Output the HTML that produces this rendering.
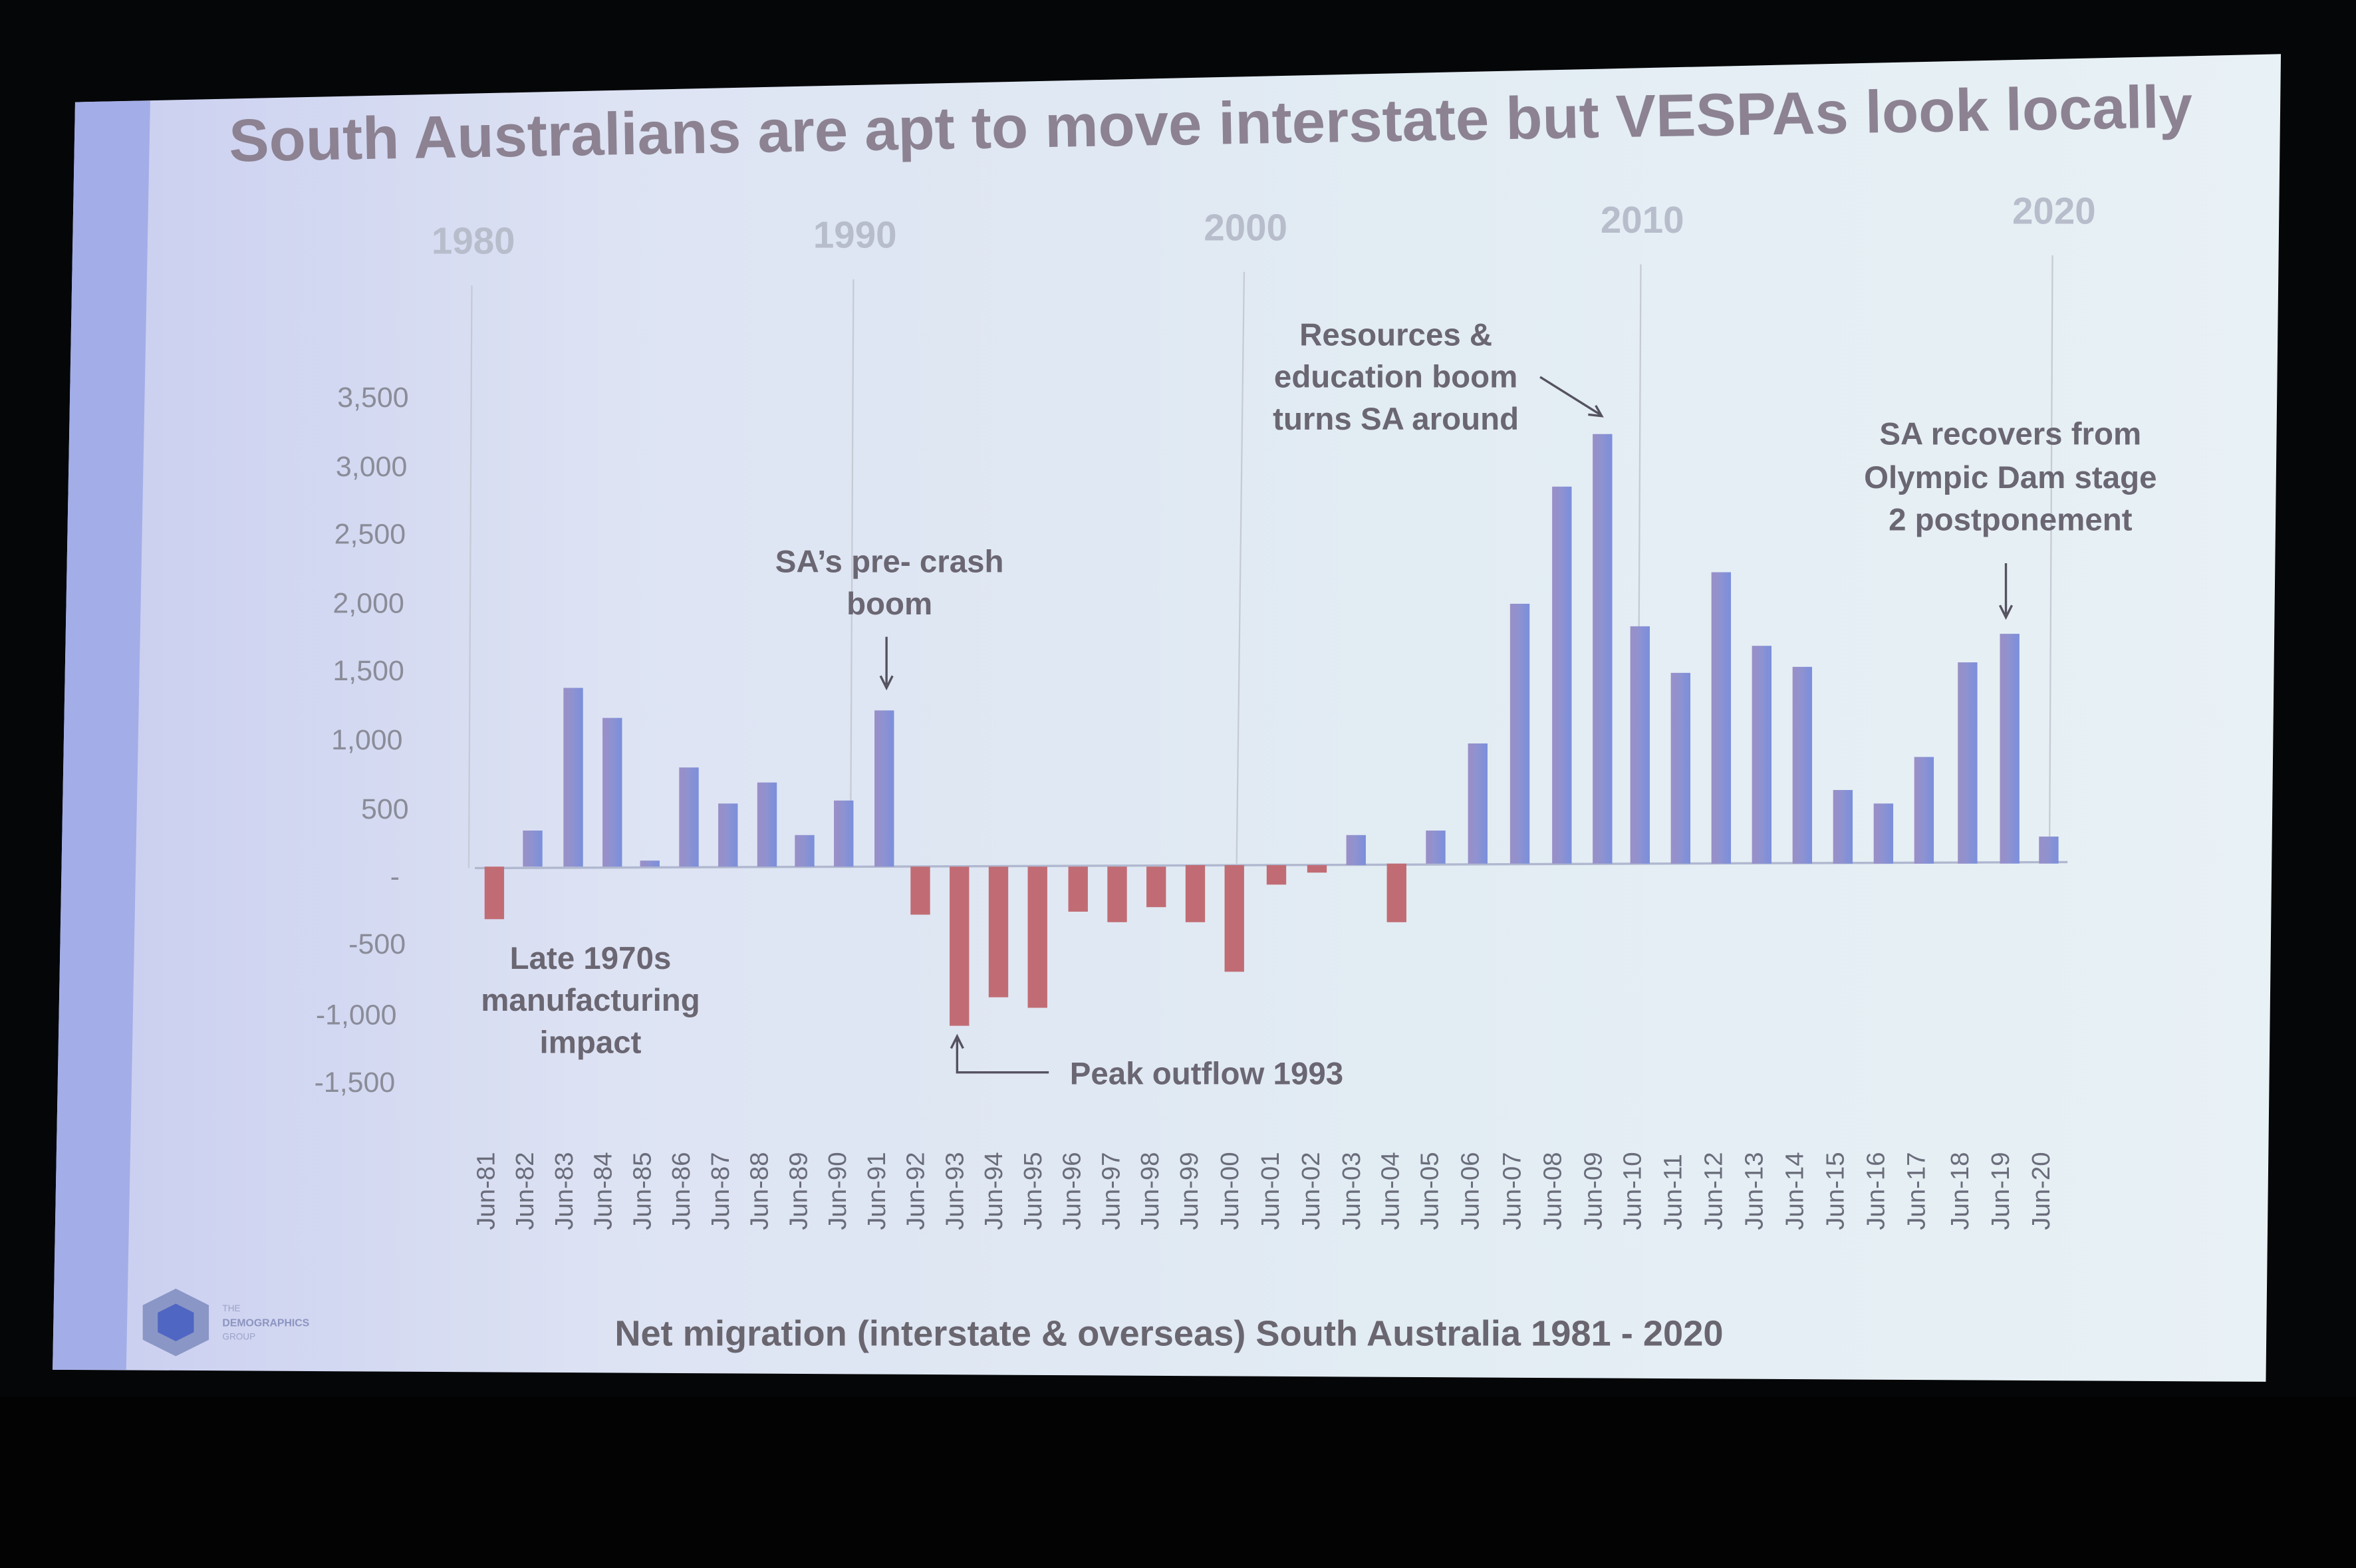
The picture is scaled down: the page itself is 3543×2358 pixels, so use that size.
<!DOCTYPE html>
<html><head><meta charset="utf-8"><style>
html,body{margin:0;padding:0;background:#050608;width:3543px;height:2358px;overflow:hidden}
svg{display:block}
text{font-family:"Liberation Sans",sans-serif}
</style></head><body>
<svg width="3543" height="2358" viewBox="0 0 1568 1044" preserveAspectRatio="none">
<defs>
<linearGradient id="scr" x1="0" y1="0" x2="1" y2="0">
<stop offset="0" stop-color="#c9cdf0"/><stop offset="0.25" stop-color="#dde3f3"/><stop offset="0.6" stop-color="#e2ecf3"/><stop offset="1" stop-color="#e8f1f5"/>
</linearGradient>
<linearGradient id="blu" x1="0" y1="0" x2="1" y2="0">
<stop offset="0" stop-color="#9a8fc6"/><stop offset="0.45" stop-color="#8f92d0"/><stop offset="1" stop-color="#7a8fdc"/>
</linearGradient>
</defs>
<rect width="1568" height="1044" fill="#050608"/>
<rect x="0" y="930" width="1568" height="114" fill="#030304"/>
<polygon points="50,68 1518,36 1508,920 35,912" fill="url(#scr)"/>
<polygon points="50,68 100,67 84,912 35,912" fill="#a3aee8"/>
<text x="806" y="96" text-anchor="middle" font-size="40" font-weight="bold" fill="#8c8292" transform="rotate(-1 806 96)">South Australians are apt to move interstate but VESPAs look locally</text>
<g font-size="25" font-weight="bold" fill="#b8bdcb" text-anchor="middle">
<text x="315" y="169">1980</text><text x="569" y="165">1990</text><text x="829" y="160">2000</text><text x="1093" y="155">2010</text><text x="1367" y="149">2020</text>
</g>
<g stroke="#c6cad4" stroke-width="1">
<line x1="314" y1="190" x2="312" y2="578"/><line x1="568" y1="186" x2="566" y2="578"/><line x1="828" y1="181" x2="823" y2="575"/><line x1="1092" y1="176" x2="1090" y2="574"/><line x1="1366" y1="170" x2="1364" y2="574"/>
</g>
<g font-size="19" fill="#8a8c98" text-anchor="end">
<text x="272" y="271">3,500</text><text x="271" y="317">3,000</text><text x="270" y="362">2,500</text><text x="269" y="408">2,000</text><text x="269" y="453">1,500</text><text x="268" y="499">1,000</text><text x="272" y="545">500</text><text x="266" y="590">-</text><text x="270" y="635">-500</text><text x="264" y="682">-1,000</text><text x="263" y="727">-1,500</text>
</g>
<line x1="316" y1="578" x2="1376" y2="574" stroke="#b0b8d0" stroke-width="1.5"/>
<g fill="#c16c74">
<rect x="322.5" y="577" width="13" height="35"/>
<rect x="606" y="577" width="13" height="32"/>
<rect x="632" y="577" width="13" height="106"/>
<rect x="658" y="577" width="13" height="87"/>
<rect x="684" y="577" width="13" height="94"/>
<rect x="711" y="577" width="13" height="30"/>
<rect x="737" y="577" width="13" height="37"/>
<rect x="763" y="577" width="13" height="27"/>
<rect x="789" y="576" width="13" height="38"/>
<rect x="815" y="576" width="13" height="71"/>
<rect x="843" y="576" width="13" height="13"/>
<rect x="870" y="576" width="13" height="5"/>
<rect x="923" y="575" width="13" height="39"/>
</g>
<g fill="url(#blu)">
<rect x="348" y="553" width="13" height="24"/>
<rect x="375" y="458" width="13" height="119"/>
<rect x="401" y="478" width="13" height="99"/>
<rect x="426" y="573" width="13" height="4"/>
<rect x="452" y="511" width="13" height="66"/>
<rect x="478" y="535" width="13" height="42"/>
<rect x="504" y="521" width="13" height="56"/>
<rect x="529" y="556" width="13" height="21"/>
<rect x="555" y="533" width="13" height="44"/>
<rect x="582" y="473" width="13" height="104"/>
<rect x="896" y="556" width="13" height="20"/>
<rect x="949" y="553" width="13" height="22"/>
<rect x="977" y="495" width="13" height="80"/>
<rect x="1005" y="402" width="13" height="173"/>
<rect x="1033" y="324" width="13" height="251"/>
<rect x="1060" y="289" width="13" height="286"/>
<rect x="1085" y="417" width="13" height="158"/>
<rect x="1112" y="448" width="13" height="127"/>
<rect x="1139" y="381" width="13" height="194"/>
<rect x="1166" y="430" width="13" height="145"/>
<rect x="1193" y="444" width="13" height="131"/>
<rect x="1220" y="526" width="13" height="49"/>
<rect x="1247" y="535" width="13" height="40"/>
<rect x="1274" y="504" width="13" height="71"/>
<rect x="1303" y="441" width="13" height="134"/>
<rect x="1331" y="422" width="13" height="153"/>
<rect x="1357" y="557" width="13" height="18"/>
</g>
<g font-size="17" fill="#6a6c7a">
<text transform="translate(329,819) rotate(-90)">Jun-81</text>
<text transform="translate(355,819) rotate(-90)">Jun-82</text>
<text transform="translate(381,819) rotate(-90)">Jun-83</text>
<text transform="translate(407,819) rotate(-90)">Jun-84</text>
<text transform="translate(433,819) rotate(-90)">Jun-85</text>
<text transform="translate(459,819) rotate(-90)">Jun-86</text>
<text transform="translate(485,819) rotate(-90)">Jun-87</text>
<text transform="translate(511,819) rotate(-90)">Jun-88</text>
<text transform="translate(537,819) rotate(-90)">Jun-89</text>
<text transform="translate(563,819) rotate(-90)">Jun-90</text>
<text transform="translate(589,819) rotate(-90)">Jun-91</text>
<text transform="translate(615,819) rotate(-90)">Jun-92</text>
<text transform="translate(641,819) rotate(-90)">Jun-93</text>
<text transform="translate(667,819) rotate(-90)">Jun-94</text>
<text transform="translate(693,819) rotate(-90)">Jun-95</text>
<text transform="translate(719,819) rotate(-90)">Jun-96</text>
<text transform="translate(745,819) rotate(-90)">Jun-97</text>
<text transform="translate(771,819) rotate(-90)">Jun-98</text>
<text transform="translate(797,819) rotate(-90)">Jun-99</text>
<text transform="translate(824,819) rotate(-90)">Jun-00</text>
<text transform="translate(851,819) rotate(-90)">Jun-01</text>
<text transform="translate(878,819) rotate(-90)">Jun-02</text>
<text transform="translate(905,819) rotate(-90)">Jun-03</text>
<text transform="translate(931,819) rotate(-90)">Jun-04</text>
<text transform="translate(957,819) rotate(-90)">Jun-05</text>
<text transform="translate(984,819) rotate(-90)">Jun-06</text>
<text transform="translate(1012,819) rotate(-90)">Jun-07</text>
<text transform="translate(1039,819) rotate(-90)">Jun-08</text>
<text transform="translate(1066,819) rotate(-90)">Jun-09</text>
<text transform="translate(1092,819) rotate(-90)">Jun-10</text>
<text transform="translate(1119,819) rotate(-90)">Jun-11</text>
<text transform="translate(1146,819) rotate(-90)">Jun-12</text>
<text transform="translate(1173,819) rotate(-90)">Jun-13</text>
<text transform="translate(1200,819) rotate(-90)">Jun-14</text>
<text transform="translate(1227,819) rotate(-90)">Jun-15</text>
<text transform="translate(1254,819) rotate(-90)">Jun-16</text>
<text transform="translate(1281,819) rotate(-90)">Jun-17</text>
<text transform="translate(1310,819) rotate(-90)">Jun-18</text>
<text transform="translate(1337,819) rotate(-90)">Jun-19</text>
<text transform="translate(1364,819) rotate(-90)">Jun-20</text>
</g>
<g font-size="21" font-weight="bold" fill="#6a6672" text-anchor="middle">
<text x="592" y="381">SA’s pre- crash</text><text x="592" y="409">boom</text>
<text x="393" y="645">Late 1970s</text><text x="393" y="673">manufacturing</text><text x="393" y="701">impact</text>
<text x="803" y="722">Peak outflow 1993</text>
<text x="929" y="230">Resources &amp;</text><text x="929" y="258">education boom</text><text x="929" y="286">turns SA around</text>
<text x="1338" y="296">SA recovers from</text><text x="1338" y="325">Olympic Dam stage</text><text x="1338" y="353">2 postponement</text>
</g>
<g stroke="#555260" stroke-width="1.5" fill="none">
<line x1="590" y1="424" x2="590" y2="456"/><polyline points="586,450 590,458 594,450"/>
<polyline points="698,714 637,714 637,692"/><polyline points="633,698 637,690 641,698"/>
<line x1="1025" y1="251" x2="1065" y2="276"/><polyline points="1057,276 1066,277 1062,270"/>
<line x1="1335" y1="375" x2="1335" y2="409"/><polyline points="1331,403 1335,411 1339,403"/>
</g>
<text x="778" y="896" text-anchor="middle" font-size="24" font-weight="bold" fill="#6a6670">Net migration (interstate &amp; overseas) South Australia 1981 - 2020</text>
<polygon points="117,858 139,869 139,892 117,903 95,892 95,869" fill="#8a96c6"/>
<polygon points="117,868 129,874 129,887 117,893 105,887 105,874" fill="#4f66c2"/>
<text x="148" y="873" font-size="6" fill="#9aa2c8">THE</text>
<text x="148" y="883" font-size="7" font-weight="bold" fill="#8c94c0">DEMOGRAPHICS</text>
<text x="148" y="892" font-size="6" fill="#9aa2c8">GROUP</text>
</svg>
</body></html>
